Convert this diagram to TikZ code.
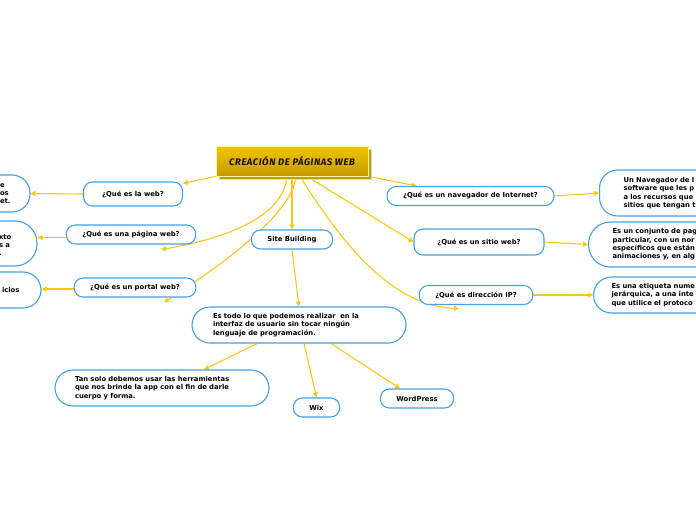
\documentclass[tikz,border=0pt]{standalone}
\usepackage{fontspec}
\setmainfont{DejaVu Sans}
\newfontfamily\titlefont[LetterSpace=6]{Fira Sans}
\usetikzlibrary{arrows.meta, shapes, positioning, backgrounds, shadows, calc}
\usepackage{xcolor}
\definecolor{linkyellow}{RGB}{250,200,20}
\definecolor{boxblue}{RGB}{70,160,225}
\definecolor{goldtop}{RGB}{242,196,0}
\definecolor{goldbottom}{RGB}{196,156,0}
\definecolor{titleink}{RGB}{25,15,0}

\begin{document}
\begin{tikzpicture}[
                x=1pt, y=-1pt,
                line join=bevel,
                titlebox/.style={shape=rectangle, top color=goldtop, bottom color=goldbottom, draw=yellow!40!white, line width=0.8pt,
                    minimum width=152pt, minimum height=30pt, text=titleink,
                    drop shadow={shadow xshift=3pt, shadow yshift=-3pt, opacity=1, fill=goldbottom, draw=black!15, line width=1pt},
                    font=\fontsize{9.5}{11}\selectfont},
                question/.style={shape=rectangle, draw=boxblue, fill=white, line width=1.1pt, rounded corners=9pt,
                    inner xsep=16pt, minimum height=19pt, font=\fontsize{6.8}{8.3}\selectfont\bfseries},
                answer/.style={shape=rectangle, draw=boxblue, fill=white, line width=1.1pt, rounded corners=18pt,
                    align=left, font=\fontsize{6.8}{8.3}\selectfont\bfseries},
                link/.style={draw=linkyellow, line width=1.1pt, -{Triangle[length=5pt, width=5pt]}}
                ]
                \useasboundingbox (0,0) rectangle (696,520);

                %% Title
                \node[titlebox] (title) at (292,161) {\titlefont\itshape\fontseries{sb}\selectfont CREACIÓN DE PÁGINAS WEB\hspace{8pt}};

                %% Left branch
                \node[question, minimum width=99pt, minimum height=24pt] (qweb) at (133,194) {¿Qué es la web?};
                \node[answer, text width=12pt, inner xsep=18pt, minimum height=37pt] (aweb) at (6,193.5) {e\\os\\et.};
                \node[question] (qpage) at (131,234.5) {¿Qué es una página web?};
                \node[answer, text width=14pt, inner xsep=24pt, minimum height=45pt, rounded corners=22pt] (apage) at (6,243.5) {\mbox{}\\xto\\s~a\\.};
                \node[question] (qportal) at (135,287.5) {¿Qué es un portal web?};
                \node[answer, text width=18pt, inner xsep=21pt, minimum height=36pt] (aportal) at (11,290) {icios};

                %% Site building
                \node[question] (site) at (292,239.5) {Site Building};
                \node[answer, text width=172pt, inner xsep=21pt, minimum height=36pt] (todo) at (299,325)
                    {Es todo lo que podemos realizar \ en la\\interfaz de usuario sin tocar ningún\\lenguaje de programación.};
                \node[answer, text width=174pt, inner xsep=20pt, minimum height=36pt] (tan) at (162,388)
                    {Tan solo debemos usar las herramientas\\que nos brinde la app con el fin de darle\\cuerpo y forma.};
                \node[question] (wix) at (316.5,407.5) {Wix};
                \node[question] (wp) at (417,398.5) {WordPress};

                %% Right branch
                \node[question] (qnav) at (470.5,196) {¿Qué es un navegador de Internet?};
                \node[answer, anchor=west, text width=160pt, inner xsep=24pt, minimum height=46pt] (anav) at (599,193)
                    {Un Navegador de I\\software que les p\\a los recursos que\\sitios que tengan t};
                \node[question, minimum width=130pt, minimum height=26pt] (qsite) at (479,242) {¿Qué es un sitio web?};
                \node[answer, anchor=west, text width=160pt, inner xsep=24pt, minimum height=45pt, rounded corners=22pt] (asite) at (588,244.5)
                    {Es un conjunto de pag\\particular, con un nor\\específicos que están\\animaciones y, en alg};
                \node[question] (qip) at (476,295) {¿Qué es dirección IP?};
                \node[answer, anchor=west, text width=160pt, inner xsep=18pt, minimum height=36pt] (aip) at (593,295)
                    {Es una etiqueta nume\\jerárquica, a una inte\\que utilice el protoco};

                %% Connectors
                \coordinate (pageend) at (161,249.5);
                \coordinate (portalend) at (164,302.5);
                \coordinate (ipend) at (459,308.5);
                \begin{scope}[on background layer]
                    \draw[link] (title.south west) -- (qweb.12);
                    \draw[link] (qweb.west) -- (aweb.east);
                    \draw[link] ([yshift=-3pt]qpage.west) -- ($(apage.east |- qpage.west)+(0,3)$);
                    \draw[link] ([xshift=-5pt]title.south) .. controls (284,215) and (230,238) .. (pageend);
                    \draw[link] ([yshift=-1.5pt]qportal.west) -- ($(aportal.east |- qportal.west)+(0,1.5)$);
                    \draw[link] ([xshift=4pt]title.south) .. controls (292,215) and (220,266) .. (portalend);
                    \draw[link] (title.south) -- (site.north);
                    \draw[link] ([xshift=8pt]title.south) .. controls (340,240) and (390,306) .. (ipend);
                    \draw[link] ([xshift=15pt]title.south) -- (qsite.west);
                    \draw[link] (title.south east) -- ([xshift=-54pt]qnav.north);
                    \draw[link] (qnav.east) -- (anav.west);
                    \draw[link] (qsite.east) -- (asite.west);
                    \draw[link] (qip.east) -- (aip.west);
                    \draw[link] (site.south) -- (todo.north);
                    \draw[link] ([xshift=-42pt]todo.south) -- ([xshift=42pt]tan.north);
                    \draw[link] ([xshift=5pt]todo.south) -- (wix.north);
                    \draw[link] ([xshift=32pt]todo.south) -- ([xshift=-17pt]wp.north);
                \end{scope}
\end{tikzpicture}
\end{document}
